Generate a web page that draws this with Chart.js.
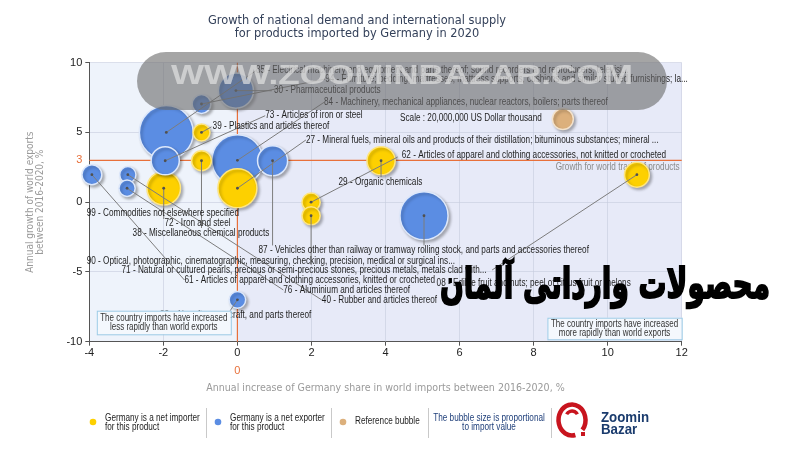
<!DOCTYPE html>
<html lang="en">
<head>
    <meta charset="UTF-8">
    <title>Germany imports - growth bubble chart</title>
    <script src="https://cdn.jsdelivr.net/npm/chart.js"></script>
    <style>
        body { margin: 0; background: #fff; }
    </style>
</head>
<body>
    <canvas id="bubbleChart" width="800" height="450"></canvas>

    <script>
        // HS chapters drawn as bubbles
        const productCodes = ['85', '94', '30', '84', '73', '90', '61', '40', '76', '87', '88',
                              '39', '38', '72', '27', '62', '71', '29', '08'];
        // annual increase of Germany share in world imports 2016-2020, %
        const shareGrowth  = [-1.92, -0.97, -0.04, 0.00, -1.95, 0.95, -3.93, -2.96, -2.98, 5.04, 0.00,
                              -0.97, -0.97, -1.99, 0.00, 1.99, 1.99, 3.88, 10.79];
        // annual growth of world exports 2016-2020, %
        const exportGrowth = [5.00, 7.04, 8.00, 3.00, 2.97, 2.97, 1.97, 1.97, 1.00, -0.97, -7.00,
                              5.00, 2.97, 1.00, 1.00, 0.00, -0.97, 2.97, 1.97];
        // import value, billion USD (bubble size)
        const importValue  = [132, 16, 56, 118, 36, 41, 18, 12, 12, 105, 12.5,
                              13, 18, 51, 69, 15, 15, 36, 28];
        // true = Germany is a net importer (yellow), false = net exporter (blue)
        const netImporter  = [false, false, false, false, false, false, false, false, false, false, false,
                              true, true, true, true, true, true, true, true];

        const productNames = {
            '85': 'Electrical machinery and equipment and parts thereof; sound recorders and reproducers, televisi...',
            '94': 'Furniture; bedding, mattresses, mattress supports, cushions and similar stuffed furnishings; la...',
            '30': 'Pharmaceutical products',
            '84': 'Machinery, mechanical appliances, nuclear reactors, boilers; parts thereof',
            '73': 'Articles of iron or steel',
            '39': 'Plastics and articles thereof',
            '27': 'Mineral fuels, mineral oils and products of their distillation; bituminous substances; mineral ...',
            '62': 'Articles of apparel and clothing accessories, not knitted or crocheted',
            '29': 'Organic chemicals',
            '99': 'Commodities not elsewhere specified',
            '72': 'Iron and steel',
            '38': 'Miscellaneous chemical products',
            '87': 'Vehicles other than railway or tramway rolling stock, and parts and accessories thereof',
            '90': 'Optical, photographic, cinematographic, measuring, checking, precision, medical or surgical ins...',
            '71': 'Natural or cultured pearls, precious or semi-precious stones, precious metals, metals clad with...',
            '61': 'Articles of apparel and clothing accessories, knitted or crocheted',
            '76': 'Aluminium and articles thereof',
            '40': 'Rubber and articles thereof',
            '88': 'Aircraft, spacecraft, and parts thereof',
            '08': 'Edible fruit and nuts; peel of citrus fruit or melons'
        };

        // reference bubble: 20,000,000 US Dollar thousand
        const refShare = 8.79;
        const refExport = 5.96;
        const refValue = 20;

        // label placement (axis units): code, text start x/y, leader end x/y
        const labelAnchors = [
            ['85', 0.50, 9.43, 0.50, 9.43],
            ['94', 2.37, 8.83, 2.37, 8.83],
            ['30', 0.99, 7.99, 0.93, 7.99],
            ['84', 2.34, 7.16, 2.34, 7.16],
            ['73', 0.75, 6.20, 0.75, 6.20],
            ['39', -0.67, 5.46, -0.70, 5.40],
            ['27', 1.85, 4.46, 1.85, 4.46],
            ['62', 4.44, 3.38, 4.33, 3.24],
            ['29', 2.73, 1.40, 3.88, 1.80],
            ['99', -4.07, -0.80, null, null],
            ['72', -1.97, -1.51, -1.99, -1.20],
            ['38', -2.83, -2.23, -0.97, -1.85],
            ['87', 0.57, -3.47, 5.04, -3.10],
            ['90', -4.07, -4.21, 0.95, -3.10],
            ['71', -3.13, -4.88, 1.99, -4.50],
            ['61', -1.43, -5.58, -1.43, -5.58],
            ['76', 1.24, -6.29, 1.24, -6.29],
            ['40', 2.28, -7.01, 2.28, -7.01],
            ['88', -2.09, -8.09, -0.20, -7.80],
            ['08', 5.38, -5.81, 6.88, -4.86]
        ];

        const LABEL_FONT = '"Liberation Sans", Arial, sans-serif';
        const UI_FONT = '"DejaVu Sans", Verdana, sans-serif';
        const BLUE = '#5b8de3';
        const YELLOW = '#fdd000';
        const TAN = '#dcb07c';
        const RED = '#e8703a';

        function bubbleRadius(v) {
            return 10.5 * Math.sqrt(v / refValue);
        }

        // draw text squeezed horizontally by factor k (narrow font look)
        function squeezeText(ctx, text, x, y, k) {
            ctx.save();
            ctx.translate(x, y);
            ctx.scale(k, 1);
            ctx.fillText(text, 0, 0);
            ctx.restore();
        }

        function fitText(ctx, text, x, y, width, stroke) {
            const k = width / ctx.measureText(text).width;
            ctx.save();
            ctx.translate(x, y);
            ctx.scale(k, 1);
            if (stroke) ctx.strokeText(text, 0, 0);
            ctx.fillText(text, 0, 0);
            ctx.restore();
        }

        const points = productCodes.map((code, i) => ({
            x: shareGrowth[i],
            y: exportGrowth[i],
            r: bubbleRadius(importValue[i]),
            code: code,
            importer: netImporter[i]
        })).sort((a, b) => b.r - a.r);

        // background, reference lines, shadows, leader lines and labels
        const decorPlugin = {
            id: 'decor',
            beforeDraw(chart) {
                const { ctx, chartArea: a, scales: { x } } = chart;
                const x0 = x.getPixelForValue(0);
                ctx.save();
                ctx.fillStyle = '#eef3fb';
                ctx.fillRect(a.left, a.top, x0 - a.left, a.bottom - a.top);
                ctx.fillStyle = '#e7eaf8';
                ctx.fillRect(x0, a.top, a.right - x0, a.bottom - a.top);
                ctx.restore();
            },
            beforeDatasetsDraw(chart) {
                const { ctx, chartArea: a, scales: { x, y } } = chart;
                const x0 = x.getPixelForValue(0);
                const y3 = y.getPixelForValue(3);
                ctx.save();
                ctx.strokeStyle = RED;
                ctx.lineWidth = 1.2;
                ctx.beginPath();
                ctx.moveTo(x0, a.top);
                ctx.lineTo(x0, a.bottom);
                ctx.moveTo(a.left, y3);
                ctx.lineTo(a.right, y3);
                ctx.stroke();

                // small texts under the bubbles
                ctx.font = '10px ' + LABEL_FONT;
                ctx.textBaseline = 'middle';
                ctx.fillStyle = '#1e1e1e';
                ctx.textAlign = 'left';
                squeezeText(ctx, 'Scale : 20,000,000 US Dollar thousand', 400, 118.5, 0.82);
                ctx.fillStyle = '#8a8a8a';
                ctx.textAlign = 'right';
                squeezeText(ctx, 'Growth for world trade of products', a.right - 2, y3 + 6.5, 0.82);
                ctx.restore();

                ctx.save();
                ctx.shadowColor = 'rgba(0,0,0,0.28)';
                ctx.shadowOffsetX = 2;
                ctx.shadowOffsetY = 2;
                ctx.shadowBlur = 3;
            },
            afterDatasetsDraw(chart) {
                const { ctx, scales: { x, y } } = chart;
                ctx.restore();

                ctx.save();
                ctx.strokeStyle = '#7d7d7d';
                ctx.lineWidth = 1;
                labelAnchors.forEach(([code, lx, ly, tx, ty]) => {
                    const p = points.find(pt => pt.code === code);
                    if (!p || tx === null) return;
                    ctx.beginPath();
                    ctx.moveTo(x.getPixelForValue(p.x), y.getPixelForValue(p.y));
                    ctx.lineTo(x.getPixelForValue(tx), y.getPixelForValue(ty));
                    ctx.stroke();
                });
                ctx.fillStyle = '#505050';
                points.forEach(p => {
                    ctx.beginPath();
                    ctx.arc(x.getPixelForValue(p.x), y.getPixelForValue(p.y), 1.4, 0, Math.PI * 2);
                    ctx.fill();
                });

                ctx.font = '10px ' + LABEL_FONT;
                ctx.textBaseline = 'middle';
                ctx.textAlign = 'left';
                ctx.fillStyle = '#1e1e1e';
                labelAnchors.forEach(([code, lx, ly]) => {
                    squeezeText(ctx, code + ' - ' + productNames[code],
                        x.getPixelForValue(lx), y.getPixelForValue(ly), 0.82);
                });
                ctx.restore();
            },
            afterDraw(chart) {
                const { ctx, chartArea: a, scales: { x, y } } = chart;
                ctx.save();

                // quadrant notes
                const boxes = [
                    [a.left + 7.5, a.bottom - 31, 134, 23.6, 'less rapidly than world exports'],
                    [a.right - 134.3, a.bottom - 24, 134.3, 21.6, 'more rapidly than world exports']
                ];
                ctx.font = '10px ' + LABEL_FONT;
                ctx.textBaseline = 'middle';
                ctx.textAlign = 'center';
                boxes.forEach(([bx, by, bw, bh, line2]) => {
                    ctx.fillStyle = '#f4f8fd';
                    ctx.fillRect(bx, by, bw, bh);
                    ctx.strokeStyle = '#9ccbe6';
                    ctx.lineWidth = 1;
                    ctx.strokeRect(bx + 0.5, by + 0.5, bw, bh);
                    ctx.fillStyle = '#333';
                    squeezeText(ctx, 'The country imports have increased', bx + bw / 2, by + bh / 2 - 4.5, 0.8);
                    squeezeText(ctx, line2, bx + bw / 2, by + bh / 2 + 4.5, 0.8);
                });

                // red marks for the reference lines
                ctx.fillStyle = RED;
                ctx.font = '11px ' + LABEL_FONT;
                ctx.textAlign = 'right';
                ctx.fillText('3', a.left - 7, y.getPixelForValue(3));
                ctx.textAlign = 'center';
                ctx.fillText('0', x.getPixelForValue(0), 371);

                // title
                ctx.fillStyle = '#34415a';
                ctx.font = '11.5px ' + UI_FONT;
                squeezeText(ctx, 'Growth of national demand and international supply', 357, 21, 0.99);
                squeezeText(ctx, 'for products imported by Germany in 2020', 357, 34.5, 0.99);

                // axis titles
                ctx.fillStyle = '#9a9a9a';
                ctx.font = '10px ' + UI_FONT;
                squeezeText(ctx, 'Annual increase of Germany share in world imports between 2016-2020, %',
                    (a.left + a.right) / 2, 388, 0.95);
                ctx.save();
                ctx.translate(30, (a.top + a.bottom) / 2);
                ctx.rotate(-Math.PI / 2);
                squeezeText(ctx, 'Annual growth of world exports', 0, 0, 0.9);
                squeezeText(ctx, 'between 2016-2020, %', 0, 10.5, 0.9);
                ctx.restore();

                // legend
                const dots = [[93, YELLOW], [218, BLUE], [343, TAN]];
                dots.forEach(([dx, c]) => {
                    ctx.fillStyle = c;
                    ctx.beginPath();
                    ctx.arc(dx, 422, 3.3, 0, Math.PI * 2);
                    ctx.fill();
                });
                ctx.strokeStyle = '#c9c9c9';
                ctx.lineWidth = 1;
                [206.5, 331.5, 428.5, 551.5].forEach(sx => {
                    ctx.beginPath();
                    ctx.moveTo(sx, 408);
                    ctx.lineTo(sx, 438);
                    ctx.stroke();
                });
                ctx.font = '10px ' + LABEL_FONT;
                ctx.fillStyle = '#222';
                ctx.textAlign = 'left';
                squeezeText(ctx, 'Germany is a net importer', 105, 418, 0.82);
                squeezeText(ctx, 'for this product', 105, 427.5, 0.82);
                squeezeText(ctx, 'Germany is a net exporter', 230, 418, 0.82);
                squeezeText(ctx, 'for this product', 230, 427.5, 0.82);
                squeezeText(ctx, 'Reference bubble', 355, 421, 0.82);
                ctx.fillStyle = '#1f3f7a';
                ctx.textAlign = 'center';
                squeezeText(ctx, 'The bubble size is proportional', 489, 418, 0.82);
                squeezeText(ctx, 'to import value', 489, 427.5, 0.82);

                // logo
                ctx.strokeStyle = '#c8141e';
                ctx.lineWidth = 4.5;
                ctx.beginPath();
                ctx.ellipse(572, 420, 13.5, 15.5, 0, Math.PI * 0.42, Math.PI * 2.22);
                ctx.stroke();
                ctx.lineWidth = 3.5;
                ctx.beginPath();
                ctx.arc(572, 417, 6, Math.PI * 1.15, Math.PI * 1.85);
                ctx.stroke();
                ctx.fillStyle = '#c8141e';
                ctx.fillRect(581, 432, 4, 4);
                ctx.fillStyle = '#1a3b6d';
                ctx.textAlign = 'left';
                ctx.textBaseline = 'alphabetic';
                ctx.font = 'bold 14px ' + LABEL_FONT;
                squeezeText(ctx, 'Zoomin', 601, 422, 0.95);
                squeezeText(ctx, 'Bazar', 601, 434, 0.95);

                // watermark band
                ctx.fillStyle = 'rgba(105,105,105,0.6)';
                ctx.beginPath();
                ctx.roundRect(137, 52, 530, 58, 29);
                ctx.fill();
                ctx.fillStyle = 'rgba(225,225,225,0.7)';
                ctx.font = 'bold 28px ' + LABEL_FONT;
                ctx.textAlign = 'center';
                ctx.textBaseline = 'middle';
                fitText(ctx, 'WWW.ZOOMINBAZAR.COM', 402, 76, 462);

                // persian caption
                ctx.fillStyle = '#000';
                ctx.strokeStyle = '#000';
                ctx.lineWidth = 2;
                ctx.direction = 'rtl';
                ctx.textAlign = 'center';
                ctx.textBaseline = 'alphabetic';
                ctx.font = 'bold 42px "DejaVu Sans", sans-serif';
                fitText(ctx, 'محصولات وارداتی آلمان', 605, 298, 330, true);
                ctx.restore();
            }
        };

        const ctx = document.getElementById('bubbleChart').getContext('2d');
        const chart = new Chart(ctx, {
            type: 'bubble',
            data: {
                datasets: [{
                    data: [{ x: refShare, y: refExport, r: bubbleRadius(refValue) }],
                    backgroundColor: TAN,
                    borderColor: '#f3e2cc',
                    borderWidth: 1.5,
                    clip: false
                }, {
                    data: points,
                    backgroundColor: c => c.raw && c.raw.importer ? YELLOW : BLUE,
                    borderColor: c => c.raw && c.raw.importer ? '#ffe680' : '#dde8fb',
                    borderWidth: 1.5,
                    clip: false
                }]
            },
            options: {
                responsive: false,
                animation: false,
                events: [],
                layout: { padding: { left: 0, right: 118.3, top: 62.7, bottom: 54.3 } },
                plugins: {
                    legend: { display: false },
                    tooltip: { enabled: false },
                    title: { display: false }
                },
                scales: {
                    x: {
                        type: 'linear',
                        min: -4,
                        max: 12,
                        ticks: { stepSize: 2, color: '#222', padding: 1, font: { family: LABEL_FONT, size: 11 } },
                        grid: { color: 'rgba(198,204,222,0.6)', tickLength: 4, tickColor: '#555' },
                        border: { color: '#555' },
                        afterFit: s => { s.height = 54; }
                    },
                    y: {
                        min: -10,
                        max: 10,
                        ticks: { stepSize: 5, color: '#222', padding: 3, font: { family: LABEL_FONT, size: 11 } },
                        grid: { color: 'rgba(198,204,222,0.6)', tickLength: 4, tickColor: '#555' },
                        border: { color: '#555' },
                        afterFit: s => { s.width = 89.3; }
                    }
                }
            },
            plugins: [decorPlugin]
        });
    </script>
</body>
</html>
